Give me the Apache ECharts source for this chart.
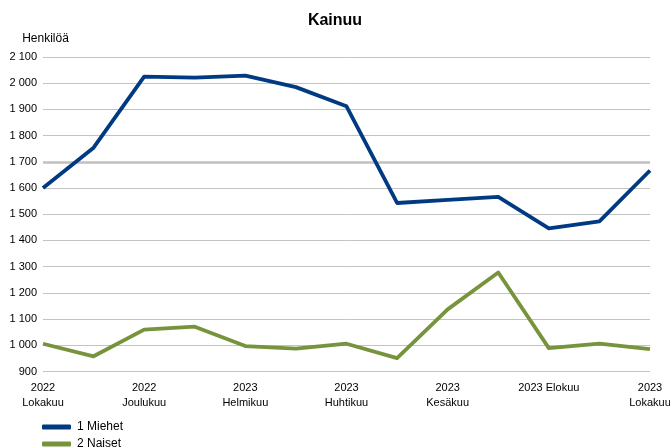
<!DOCTYPE html>
<html>
<head>
<meta charset="utf-8">
<script src="https://cdn.jsdelivr.net/npm/echarts@6/dist/echarts.min.js"></script>
<style>
html,body{margin:0;padding:0;background:#fff;}
#c{width:670px;height:448px;}
</style>
</head>
<body>
<div id="c"></div>
<script>
const titleText = "Kainuu";
const yAxisName = "Henkilöä";
const categories = [
  "2022\nLokakuu", "2022\nMarraskuu", "2022\nJoulukuu", "2023\nTammikuu",
  "2023\nHelmikuu", "2023\nMaaliskuu", "2023\nHuhtikuu", "2023\nToukokuu",
  "2023\nKesäkuu", "2023\nHeinäkuu", "2023 Elokuu", "2023\nSyyskuu", "2023\nLokakuu"
];
const seriesNames = ["1 Miehet", "2 Naiset"];
const miehet = [1600, 1754, 2025, 2021, 2029, 1985, 1912, 1543, 1555, 1566, 1446, 1473, 1667];
const naiset = [1006, 958, 1060, 1071, 997, 987, 1006, 951, 1137, 1278, 989, 1006, 985];
const yMin = 900, yMax = 2100, yStep = 100;
const highlightLine = 1700;

const font = "'Liberation Sans', Arial, sans-serif";
const chart = echarts.init(document.getElementById('c'), null, {renderer: 'canvas'});
chart.setOption({
  animation: false,
  backgroundColor: '#ffffff',
  title: {
    text: titleText, left: 'center', top: 8,
    textStyle: {fontFamily: font, fontSize: 16, fontWeight: 'bold', color: '#000'}
  },
  grid: {left: 43, right: 20, top: 57, bottom: 76.5, containLabel: false, outerBoundsMode: 'none'},
  legend: {
    orient: 'vertical', left: 42, top: 421, height: 40, padding: 0,
    itemWidth: 29, itemHeight: 5, itemGap: 5,
    icon: 'roundRect',
    textStyle: {fontFamily: font, fontSize: 12, color: '#000', padding: [0,0,0,1]},
    data: seriesNames
  },
  xAxis: {
    type: 'category', data: categories, boundaryGap: false,
    axisLine: {show: false}, axisTick: {show: false},
    axisLabel: {
      interval: 1, margin: 9, fontFamily: font, fontSize: 11, color: '#000',
      lineHeight: 15, showMaxLabel: true, showMinLabel: true
    },
    splitLine: {show: false}
  },
  yAxis: {
    type: 'value', min: yMin, max: yMax, interval: yStep,
    name: yAxisName, nameLocation: 'end', nameGap: 12,
    nameTextStyle: {fontFamily: font, fontSize: 12, color: '#000', padding: [0,0,0,5]},
    axisLine: {show: false}, axisTick: {show: false},
    axisLabel: {
      margin: 6, fontFamily: font, fontSize: 11, color: '#000',
      formatter: v => String(v).replace(/\B(?=(\d{3})+(?!\d))/g, ' ')
    },
    splitLine: {lineStyle: {color: '#c3c3c3', width: 1}}
  },
  series: [
    {
      name: seriesNames[0], type: 'line', data: miehet,
      showSymbol: false, symbol: 'none',
      lineStyle: {color: '#003a82', width: 3.8, join: 'round'},
      itemStyle: {color: '#003a82'},
      markLine: {
        silent: true, symbol: 'none', label: {show: false},
        lineStyle: {color: '#c0c0c0', width: 2.5, type: 'solid'},
        data: [{yAxis: highlightLine}],
        z: 1
      },
      z: 3
    },
    {
      name: seriesNames[1], type: 'line', data: naiset,
      showSymbol: false, symbol: 'none',
      lineStyle: {color: '#77933c', width: 3.8, join: 'round'},
      itemStyle: {color: '#77933c'},
      z: 3
    }
  ]
});
</script>
</body>
</html>
